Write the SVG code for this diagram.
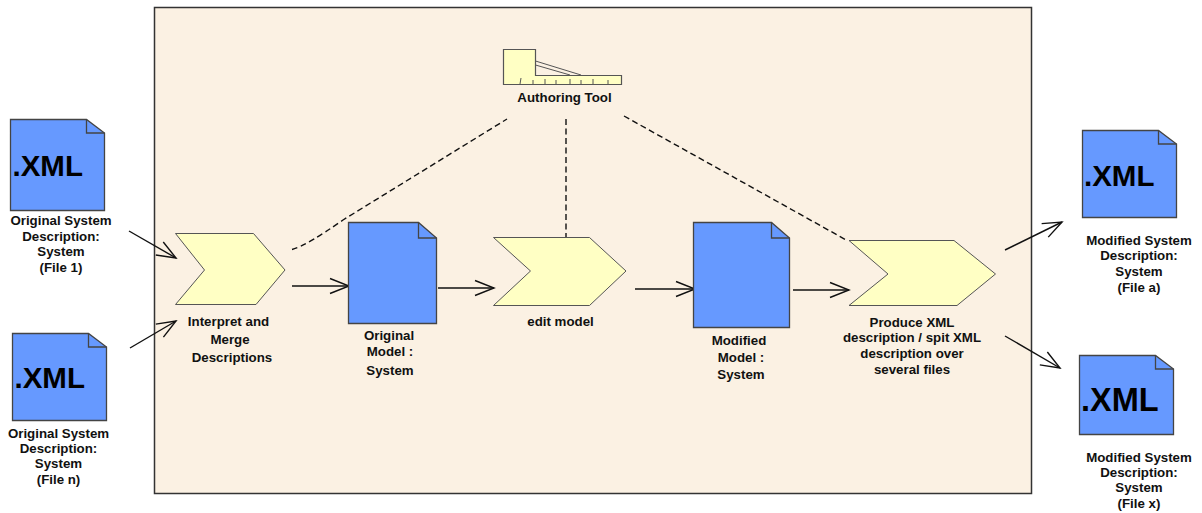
<svg xmlns="http://www.w3.org/2000/svg" width="1202" height="513" viewBox="0 0 1202 513">
<defs>
<marker id="open" markerUnits="userSpaceOnUse" markerWidth="36" markerHeight="28" refX="30" refY="14" orient="auto"><path d="M11 6.500 L30 14 L11 21.500" fill="none" stroke="#111" stroke-width="1.4"/></marker>
</defs>
<style>
text{font-family:"Liberation Sans",Arial,sans-serif;font-weight:bold;fill:#111;text-anchor:middle}
.l{font-size:13.3px}
.x{font-size:29.500px;text-anchor:start;fill:#000}
.doc{fill:#6699ff;stroke:#444;stroke-width:1.3}
.fold{fill:none;stroke:#444;stroke-width:1.3}
.chev{fill:#ffffc4;stroke:#555;stroke-width:1}
.c{fill:none;stroke:#111;stroke-width:1.4}
.d{stroke-dasharray:6 3.5}
</style>
<rect id="boundary" x="154.500" y="7.500" width="877" height="486" fill="#fbf1e3" stroke="#333" stroke-width="1.5"/>
<g id="connectors">
<path class="c" d="M129 231 L176 258" marker-end="url(#open)"/>
<path class="c" d="M130 348 L176 321" marker-end="url(#open)"/>
<path class="c" d="M292 286 L349 286" marker-end="url(#open)"/>
<path class="c" d="M438 288 L494 288" marker-end="url(#open)"/>
<path class="c" d="M635 289 L695 289" marker-end="url(#open)"/>
<path class="c" d="M793 290 L849 290" marker-end="url(#open)"/>
<path class="c" d="M1005 250 L1062 222" marker-end="url(#open)"/>
<path class="c" d="M1005 336 L1060 368" marker-end="url(#open)"/>
<path class="c d" d="M292 249.500 Q306 246 343 220 L507 119"/>
<path class="c d" d="M566 119 L566 237"/>
<path class="c d" d="M624 116 L848 241"/>
</g>
<g id="tool">
<path d="M503.500 49.500 H535.500 V75.500 H621.500 V84.500 H503.500 Z" fill="#ffffc4" stroke="#555" stroke-width="1.2"/>
<path d="M535.500 61 L581 75 M535.500 65 L570 75 M521 78 L520 84 M533 80 V84 M545 79 V84 M556 80 V84 M570 79 V84 M581 80 V84 M593 79 V84 M608 80 V84" fill="none" stroke="#555"/>
<text class="l" x="564.500" y="102">Authoring Tool</text>
</g>
<g id="file1">
<path class="doc" d="M10.500 119.500 H86.500 L104.500 133 V210.500 H10.500 Z"/><path class="fold" d="M86.500 119.500 V133 H104.500"/>
<text class="x" x="12.500" y="176">.XML</text>
<text class="l" x="61" y="225">Original System</text><text class="l" x="61" y="241">Description:</text><text class="l" x="61" y="256">System</text><text class="l" x="61" y="272">(File 1)</text>
</g>
<g id="filen">
<path class="doc" d="M12.500 333.500 H88.500 L106.500 347 V420.500 H12.500 Z"/><path class="fold" d="M88.500 333.500 V347 H106.500"/>
<text class="x" x="14.500" y="388">.XML</text>
<text class="l" x="58.500" y="438">Original System</text><text class="l" x="58.500" y="453">Description:</text><text class="l" x="58.500" y="468">System</text><text class="l" x="58.500" y="484">(File n)</text>
</g>
<g id="interpret">
<path class="chev" d="M175.500 233.500 H253.500 L285 270 L256 304.500 H175.500 L204.500 270 Z"/>
<text class="l" x="228.500" y="326">Interpret and</text><text class="l" x="230" y="344">Merge</text><text class="l" x="232" y="362">Descriptions</text>
</g>
<g id="original">
<path class="doc" d="M348.500 222.500 H418.500 L436.500 238 V323.500 H348.500 Z"/><path class="fold" d="M418.500 222.500 V238 H436.500"/>
<text class="l" x="389" y="340">Original</text><text class="l" x="390" y="356">Model :</text><text class="l" x="390" y="375">System</text>
</g>
<g id="edit">
<path class="chev" d="M493.500 237.500 H589.500 L626 271 L589.500 305.500 H493.500 L530.500 271 Z"/>
<text class="l" x="560.500" y="326">edit model</text>
</g>
<g id="modified">
<path class="doc" d="M693.500 222.500 H771.500 L789.500 238 V327.500 H693.500 Z"/><path class="fold" d="M771.500 222.500 V238 H789.500"/>
<text class="l" x="739" y="345">Modified</text><text class="l" x="741" y="362">Model :</text><text class="l" x="741" y="379">System</text>
</g>
<g id="produce">
<path class="chev" d="M849 240.500 H954 L995.500 274 L957 305.500 H849 L888 274 Z"/>
<text class="l" x="912" y="327">Produce XML</text><text class="l" x="912" y="342">description / spit XML</text><text class="l" x="912" y="358">description over</text><text class="l" x="912" y="374">several files</text>
</g>
<g id="filea">
<path class="doc" d="M1082.500 130.500 H1158.500 L1176.500 144 V217.500 H1082.500 Z"/><path class="fold" d="M1158.500 130.500 V144 H1176.500"/>
<text class="x" x="1084" y="186">.XML</text>
<text class="l" x="1139" y="245">Modified System</text><text class="l" x="1139" y="260">Description:</text><text class="l" x="1139" y="276">System</text><text class="l" x="1139" y="292">(File a)</text>
</g>
<g id="filex">
<path class="doc" d="M1079.500 355.500 H1155.500 L1173.500 369 V434.500 H1079.500 Z"/><path class="fold" d="M1155.500 355.500 V369 H1173.500"/>
<text class="x" x="1081" y="411" style="font-size:32.500px">.XML</text>
<text class="l" x="1139" y="462">Modified System</text><text class="l" x="1139" y="477">Description:</text><text class="l" x="1139" y="492">System</text><text class="l" x="1139" y="508">(File x)</text>
</g>
</svg>
